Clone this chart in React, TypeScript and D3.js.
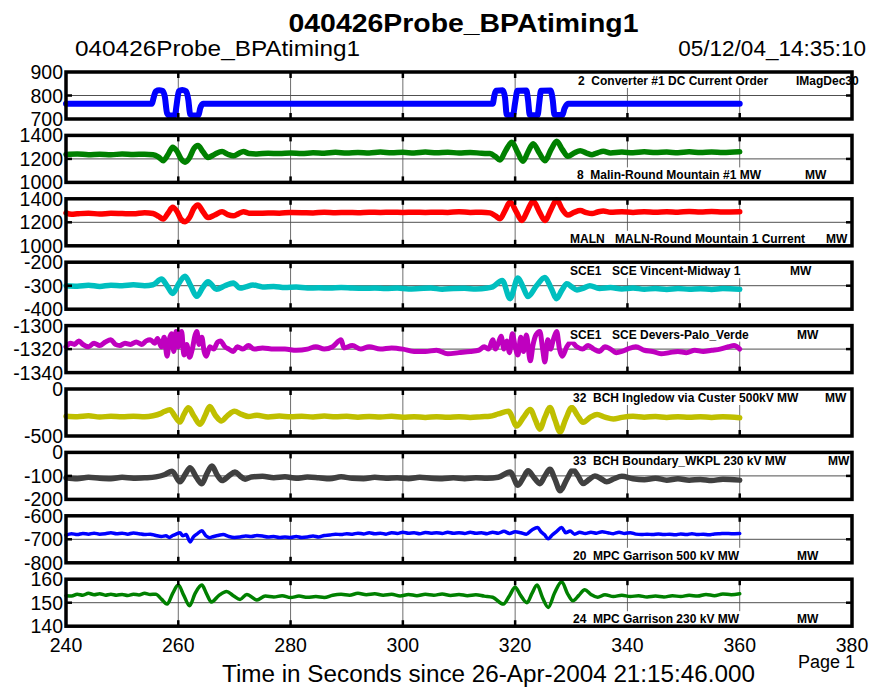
import React from "react";
import * as d3 from "d3";

// time axis (seconds)
const timeTicks = [240, 260, 280, 300, 320, 340, 360, 380];

const dcOrder: [number, number][] = [
  [240, 765], [255.3, 765], [255.6, 790], [256, 818], [256.6, 822], [257.2, 820], [257.6, 795], [258, 725],
  [258.4, 715], [259.4, 716], [259.7, 760], [260.1, 818], [260.7, 823], [261.4, 818], [261.8, 780], [262.1, 720],
  [262.5, 715], [263.6, 716], [263.9, 745], [264.4, 765], [316, 765], [316.3, 800], [316.6, 820], [317.8, 822],
  [318.2, 790], [318.5, 718], [319.6, 716], [320, 770], [320.4, 820], [322, 821], [322.3, 780], [322.6, 717],
  [324, 716], [324.3, 770], [324.6, 820], [326.3, 821], [326.7, 780], [327, 718], [328.4, 717], [328.8, 745],
  [329.4, 765], [360, 765],
];

const malinMw: [number, number][] = [
  [240, 1238], [242, 1242], [244, 1236], [246, 1240], [248, 1235], [250, 1242], [252, 1238], [254, 1240],
  [255.5, 1236], [256.5, 1215], [257.3, 1185], [258.2, 1240], [259, 1300], [259.7, 1270], [260.5, 1200],
  [261.2, 1172], [262, 1210], [262.8, 1290], [263.5, 1315], [264.4, 1260], [265.3, 1212], [266.5, 1240],
  [267.8, 1262], [268.8, 1240], [269.8, 1226], [270.7, 1245], [271.6, 1264], [272.6, 1245], [274, 1242],
  [276, 1248], [278, 1245], [280, 1250], [282, 1246], [284, 1252], [286, 1248], [288, 1256], [290, 1250],
  [292, 1255], [294, 1250], [296, 1258], [298, 1252], [300, 1256], [302, 1250], [304, 1258], [306, 1252],
  [308, 1257], [310, 1250], [312, 1255], [314, 1248], [315.5, 1245], [316.5, 1220], [317.3, 1190],
  [318.3, 1270], [319.4, 1342], [320.4, 1260], [321.4, 1180], [322.3, 1260], [323.2, 1330], [324.3, 1250],
  [325.3, 1185], [326.4, 1280], [327.4, 1350], [328.4, 1280], [329.4, 1222], [330.5, 1250], [331.6, 1270],
  [332.7, 1250], [333.7, 1236], [334.7, 1252], [335.7, 1265], [337, 1250], [339, 1258], [341, 1252],
  [343, 1260], [345, 1254], [347, 1258], [349, 1252], [351, 1260], [353, 1255], [355, 1258], [357, 1254],
  [360, 1260],
];

const malnCurrent: [number, number][] = [
  [240, 1280], [241, 1268], [242, 1272], [244, 1278], [246, 1270], [248, 1276], [250, 1274], [252, 1272],
  [254, 1282], [255.5, 1275], [256.5, 1250], [257.3, 1228], [258.2, 1280], [259, 1328], [259.8, 1290],
  [260.5, 1225], [261.2, 1205], [262, 1240], [262.8, 1320], [263.5, 1348], [264.4, 1290], [265.3, 1240],
  [266.5, 1262], [267.8, 1290], [268.8, 1265], [269.8, 1255], [270.7, 1272], [271.6, 1290], [272.6, 1278],
  [274, 1276], [276, 1280], [278, 1278], [280, 1283], [282, 1282], [284, 1280], [286, 1285], [288, 1282],
  [290, 1284], [292, 1282], [294, 1286], [296, 1284], [298, 1285], [300, 1284], [302, 1286], [304, 1284],
  [306, 1286], [308, 1284], [310, 1290], [312, 1284], [314, 1286], [315.5, 1280], [316.5, 1255],
  [317.3, 1230], [318.2, 1300], [319.1, 1372], [320.2, 1290], [321.2, 1215], [322.2, 1300], [323.2, 1382],
  [324.3, 1290], [325.3, 1215], [326.4, 1310], [327.4, 1392], [328.4, 1310], [329.4, 1262], [330.5, 1285],
  [331.6, 1300], [332.7, 1282], [333.7, 1274], [334.7, 1288], [335.7, 1296], [337, 1286], [339, 1290],
  [341, 1284], [343, 1290], [345, 1286], [347, 1290], [349, 1286], [351, 1292], [353, 1288], [355, 1292],
  [357, 1288], [360, 1290],
];

const vincentMw: [number, number][] = [
  [240, -300], [242, -302], [244, -298], [246, -303], [248, -298], [250, -300], [252, -296], [254, -300],
  [255.5, -296], [257, -272], [258, -300], [259, -333], [260.1, -290], [261.2, -260], [262.2, -300],
  [263.3, -345], [264.3, -310], [265.3, -283], [266.8, -315], [268.3, -300], [269.8, -288], [271, -310],
  [272, -305], [273.3, -297], [275, -305], [277, -303], [279, -308], [281, -306], [283, -310], [285, -309],
  [287, -310], [289, -308], [291, -310], [293, -311], [295, -310], [297, -312], [299, -310], [301, -314],
  [303, -312], [305, -310], [307, -315], [309, -312], [311, -311], [313, -314], [315, -310], [316, -305],
  [317.7, -278], [319.1, -355], [320.5, -267], [321.4, -305], [322.3, -346], [323.8, -300], [325.3, -265],
  [326.4, -310], [327.4, -355], [328.3, -320], [329.2, -292], [330.1, -305], [331, -318], [332.2, -310],
  [333.3, -300], [335, -312], [337, -308], [339, -314], [341, -310], [343, -315], [345, -312], [347, -316],
  [349, -312], [351, -315], [353, -313], [355, -316], [357, -312], [360, -315],
];

const deversMw: [number, number][] = [
  [240, -1318], [240.8, -1315], [241.5, -1316], [242.3, -1313], [243, -1316], [244, -1318], [245, -1315],
  [246, -1317], [247, -1314], [248, -1312], [248.8, -1316], [249.6, -1317], [250.5, -1315], [251.5, -1316],
  [252.5, -1314], [253.5, -1316], [254.3, -1313], [255, -1312], [255.8, -1315], [256.3, -1311], [257, -1318],
  [257.5, -1310], [258, -1326], [258.4, -1312], [258.8, -1307], [259.2, -1322], [259.6, -1305], [260, -1318],
  [260.6, -1305], [261, -1325], [261.5, -1316], [262, -1327], [262.5, -1320], [263, -1308], [263.3, -1305],
  [263.7, -1316], [264.2, -1310], [264.6, -1322], [265, -1326], [265.6, -1318], [266.3, -1320], [267, -1314],
  [267.5, -1313], [268.3, -1318], [269, -1320], [269.8, -1322], [270.5, -1318], [271.5, -1320], [272.5, -1317],
  [273.5, -1320], [275, -1319], [277, -1320], [279, -1320], [281, -1321], [283, -1320], [284.5, -1318],
  [286, -1320], [287.5, -1318], [289, -1312], [289.5, -1319], [291, -1317], [292.5, -1320], [294, -1318],
  [296, -1320], [298, -1319], [300, -1320], [302, -1322], [304, -1322], [306, -1321], [308, -1324],
  [310, -1323], [312, -1322], [313.5, -1321], [314.5, -1318], [315.3, -1320], [316, -1312], [316.5, -1320],
  [317, -1315], [317.5, -1309], [318, -1320], [318.5, -1313], [319, -1323], [319.5, -1307], [320, -1318],
  [320.5, -1325], [321, -1310], [321.5, -1322], [322, -1308], [322.7, -1330], [323.2, -1316], [323.7, -1308],
  [324.4, -1305], [324.9, -1320], [325.3, -1331], [325.8, -1312], [326.3, -1320], [326.8, -1312],
  [327.4, -1305], [327.9, -1320], [328.4, -1326], [329.2, -1318], [330, -1314], [331, -1318], [332, -1320],
  [333, -1317], [334, -1320], [335, -1322], [336, -1318], [337, -1320], [338, -1323], [339, -1322],
  [340, -1320], [341.5, -1318], [343, -1321], [344.5, -1322], [346, -1324], [347.5, -1323], [349, -1322],
  [350.5, -1323], [352, -1321], [353.5, -1322], [355, -1321], [356.5, -1320], [358, -1318], [359, -1317],
  [360, -1320],
];

const ingledowMw: [number, number][] = [
  [240, -290], [242, -295], [244, -285], [246, -298], [248, -290], [250, -294], [252, -290], [254, -295],
  [255.5, -285], [256.8, -262], [257.5, -240], [258.5, -220], [259.4, -290], [260.3, -352], [261, -270],
  [261.8, -200], [262.8, -290], [263.9, -375], [264.8, -280], [265.6, -185], [266.6, -280], [267.7, -340],
  [268.8, -280], [270, -238], [271.3, -270], [272.5, -292], [274, -280], [276, -298], [278, -288],
  [280, -295], [282, -290], [284, -298], [286, -288], [288, -295], [290, -290], [292, -300], [294, -292],
  [296, -298], [298, -290], [300, -300], [302, -295], [304, -302], [306, -296], [308, -300], [310, -294],
  [312, -302], [314, -294], [315.5, -290], [317, -265], [318.8, -236], [320.3, -393], [321.5, -300],
  [322.7, -218], [323.6, -330], [324.4, -427], [325.3, -300], [326.2, -198], [327.1, -330], [328, -458],
  [329, -320], [330.1, -198], [331.1, -280], [332.1, -354], [333.4, -300], [334.6, -271], [336, -300],
  [337.5, -320], [339, -302], [341, -290], [343, -300], [345, -292], [347, -302], [349, -296], [351, -300],
  [353, -294], [355, -302], [357, -296], [360, -305],
];

const boundaryMw: [number, number][] = [
  [240, -108], [242, -112], [244, -106], [246, -110], [248, -112], [250, -106], [252, -110], [254, -108],
  [256, -104], [257.5, -95], [258.9, -80], [260.3, -125], [261.2, -95], [262.1, -65], [263.2, -105],
  [264.2, -133], [265.1, -90], [266, -58], [266.9, -95], [267.8, -120], [269, -100], [270.1, -83], [271, -100],
  [271.9, -114], [273, -105], [275, -102], [277, -108], [279, -104], [281, -110], [283, -105], [285, -108],
  [287, -112], [289, -104], [291, -110], [293, -112], [295, -106], [297, -110], [299, -108], [301, -112],
  [303, -106], [305, -110], [307, -112], [309, -108], [311, -112], [313, -108], [315, -110], [317, -106],
  [319.1, -83], [320.5, -140], [321.4, -110], [322.3, -78], [323.3, -105], [324.4, -133], [325.3, -100],
  [326.2, -72], [327.1, -115], [328, -163], [329.2, -115], [330.3, -74], [331.2, -100], [332.1, -132],
  [333.2, -115], [334.2, -100], [335.3, -112], [336.3, -125], [337.6, -112], [339, -102], [341, -112],
  [343, -116], [345, -110], [347, -118], [349, -112], [351, -118], [353, -115], [355, -120], [357, -114],
  [360, -118],
];

const garrison500: [number, number][] = [
  [240, -682], [241, -676], [242, -680], [243, -675], [244, -678], [245, -674], [246, -678], [247, -676],
  [248, -672], [249, -676], [250, -674], [251, -678], [252, -673], [253, -676], [254, -680], [255, -678],
  [256, -684], [257, -688], [257.8, -685], [258.4, -692], [259, -684], [259.6, -678], [260.3, -672],
  [260.8, -685], [261.4, -680], [262.1, -711], [262.7, -690], [263.3, -678], [264.2, -664], [264.9, -685],
  [265.6, -693], [266.3, -688], [267, -684], [268, -680], [269, -688], [270, -692], [271, -690], [272, -686],
  [273, -688], [274, -684], [275, -686], [276, -690], [277, -688], [278, -692], [279, -690], [280, -692],
  [281, -688], [282, -692], [283, -690], [284, -686], [285, -690], [286, -684], [287, -682], [288, -678],
  [289, -680], [290, -676], [291, -678], [292, -674], [293, -677], [294, -672], [295, -676], [296, -674],
  [297, -678], [298, -672], [299, -675], [300, -670], [301, -674], [302, -672], [303, -676], [304, -671],
  [305, -674], [306, -672], [307, -675], [308, -670], [309, -674], [310, -672], [311, -675], [312, -670],
  [313, -674], [314, -672], [315, -676], [316, -670], [317, -674], [318, -666], [319, -675], [320, -668],
  [321, -672], [322, -678], [323, -660], [324, -650], [324.6, -668], [325.2, -680], [325.9, -698],
  [326.6, -682], [327.3, -668], [328.3, -650], [329, -672], [329.8, -665], [330.6, -678], [331.5, -670],
  [332.5, -675], [333.5, -670], [334.5, -674], [335.5, -668], [336.5, -672], [337.5, -676], [338.5, -670],
  [339.5, -675], [340.5, -672], [341.5, -678], [342.5, -680], [343.5, -678], [344.5, -680], [345.5, -677],
  [346.5, -680], [347.5, -678], [348.5, -681], [349.5, -677], [350.5, -680], [351.5, -676], [352.5, -680],
  [353.5, -678], [354.5, -681], [355.5, -677], [356.5, -676], [357.5, -675], [358.5, -676], [360, -675],
];

const garrison230: [number, number][] = [
  [240, 153], [241, 152.8], [242, 153.6], [243, 153.2], [244, 154], [245, 153.4], [246, 153.8], [247, 153.2],
  [248, 153.6], [249, 153.2], [250, 153.5], [251, 153.1], [252, 153.6], [253, 153.3], [254, 154],
  [255, 153.5], [256, 153.6], [257, 151.5], [258, 149.4], [259, 154], [260, 157.5], [261, 153], [262, 148.7],
  [263, 154], [264.2, 157.5], [265, 154], [265.9, 150.3], [267.2, 153], [268.6, 154.8], [269.8, 153],
  [271, 151.4], [272.2, 153.5], [274, 151.2], [275.5, 152.8], [277, 152.4], [278.5, 153], [280, 152.2],
  [281.5, 152.8], [283, 152.3], [284.5, 152.6], [286, 152.2], [287.5, 153.2], [289, 153.6], [290.5, 153.2],
  [292, 154], [293.5, 153.4], [295, 153.8], [296.5, 153.2], [298, 153.6], [299.5, 152.9], [301, 153.5],
  [302.5, 153], [304, 153.6], [305.5, 153.2], [307, 153.7], [308.5, 153.1], [310, 153.5], [311.5, 153],
  [313, 153.4], [314.5, 152.8], [316, 152.3], [317.9, 149.4], [319, 153], [320, 156.6], [321, 153],
  [322.1, 150], [323, 154], [323.9, 157.5], [324.9, 152], [325.9, 148], [327, 154], [328.3, 158.9],
  [329.3, 154], [330.3, 150.8], [331.3, 153], [332.4, 155.5], [333.5, 153.5], [334.7, 152.3], [336, 153.4],
  [337.5, 152.6], [339, 153.2], [340.5, 152.6], [342, 153], [343.5, 152.4], [345, 152.8], [346.5, 152.4],
  [348, 153], [349.5, 152.6], [351, 153.2], [352.5, 152.8], [354, 153.5], [355.5, 153], [357, 153.7],
  [358.5, 153.4], [360, 153.8],
];

// y tick values for each panel
const yTicks = [
  [700, 800, 900],
  [1000, 1200, 1400],
  [1000, 1200, 1400],
  [-400, -300, -200],
  [-1340, -1320, -1300],
  [-500, 0],
  [-200, -100, 0],
  [-800, -700, -600],
  [140, 150, 160],
];

// channel label pieces: [text, x]
const channelLabels: [string, number][][] = [
  [["2  Converter #1 DC Current Order", 578], ["IMagDec30", 796]],
  [["8  Malin-Round Mountain #1 MW", 577], ["MW", 805]],
  [["MALN", 570], ["MALN-Round Mountain 1 Current", 615], ["MW", 826]],
  [["SCE1", 570], ["SCE Vincent-Midway 1", 612], ["MW", 790]],
  [["SCE1", 570], ["SCE Devers-Palo_Verde", 612], ["MW", 797]],
  [["32  BCH Ingledow via Custer 500kV MW", 573], ["MW", 825]],
  [["33  BCH Boundary_WKPL 230 kV MW", 573], ["MW", 828]],
  [["20  MPC Garrison 500 kV MW", 573], ["MW", 797]],
  [["24  MPC Garrison 230 kV MW", 573], ["MW", 797]],
];
const labelAtTop = [true, false, false, true, true, true, true, false, false];

const seriesList = [dcOrder, malinMw, malnCurrent, vincentMw, deversMw, ingledowMw, boundaryMw, garrison500, garrison230];
const colors = ["#0000ff", "#008000", "#ff0000", "#00bfbf", "#bf00bf", "#bfbf00", "#404040", "#0000ff", "#008000"];
const widths = [6, 5.5, 5.5, 5.5, 5, 5.5, 5.5, 3.5, 3.5];

const W = 877;
const H = 688;
const left = 66;
const right = 852;
const top0 = 72;
const step = 63.4;
const ph = 47;
const FONT = "'Liberation Sans', Arial, Helvetica, sans-serif";

export default function App() {
  const x = d3.scaleLinear().domain([240, 380]).range([left, right]);
  const innerTicks = timeTicks.slice(1, -1);

  return (
    <svg width={W} height={H} style={{ position: "absolute", left: 0, top: 0, display: "block", background: "#fff" }} fontFamily={FONT}>
      <text x={463.5} y={32} textAnchor="middle" fontSize={26} fontWeight="bold" textLength={350} lengthAdjust="spacingAndGlyphs">
        040426Probe_BPAtiming1
      </text>
      <text x={75} y={56} fontSize={22.5} textLength={285} lengthAdjust="spacingAndGlyphs">
        040426Probe_BPAtiming1
      </text>
      <text x={866} y={56} fontSize={22.5} textAnchor="end">
        05/12/04_14:35:10
      </text>

      {seriesList.map((data, i) => {
        const top = top0 + i * step;
        const bottom = top + ph;
        const ticks = yTicks[i];
        const y = d3.scaleLinear().domain([ticks[0], ticks[ticks.length - 1]]).range([bottom, top]);
        const line = d3
          .line<[number, number]>()
          .x((d) => x(d[0]))
          .y((d) => y(d[1]))
          .curve(d3.curveMonotoneX);
        const mids = ticks.slice(1, -1);
        const atTop = labelAtTop[i];
        return (
          <g key={i}>
            {innerTicks.map((t) => (
              <line key={"g" + t} x1={x(t)} x2={x(t)} y1={top} y2={bottom} stroke="#6e6e6e" strokeWidth={1} />
            ))}
            {mids.map((v) => (
              <line key={"h" + v} x1={left} x2={right} y1={y(v)} y2={y(v)} stroke="#505050" strokeWidth={1} />
            ))}
            <path d={line(data) || ""} fill="none" stroke={colors[i]} strokeWidth={widths[i]} strokeLinejoin="round" strokeLinecap="round" />
            {innerTicks.map((t) => (
              <g key={"t" + t}>
                <line x1={x(t)} x2={x(t)} y1={top} y2={top + 6} stroke="#000" strokeWidth={2.5} />
                <line x1={x(t)} x2={x(t)} y1={bottom - 6} y2={bottom} stroke="#000" strokeWidth={2.5} />
              </g>
            ))}
            {mids.map((v) => (
              <g key={"m" + v}>
                <line x1={left} x2={left + 6} y1={y(v)} y2={y(v)} stroke="#000" strokeWidth={2.5} />
                <line x1={right - 6} x2={right} y1={y(v)} y2={y(v)} stroke="#000" strokeWidth={2.5} />
              </g>
            ))}
            <rect x={568} y={atTop ? top : top + 32} width={right - 568} height={atTop ? 16 : ph - 32} fill="#fff" />
            {channelLabels[i].map(([txt, lx], k) => (
              <text key={k} x={lx} y={atTop ? top + 13 : top + 44} fontSize={12} fontWeight="bold" style={{ whiteSpace: "pre" }}>
                {txt}
              </text>
            ))}
            <rect x={left} y={top} width={right - left} height={ph} fill="none" stroke="#000" strokeWidth={3.5} />
            {ticks.map((v) => (
              <text key={"l" + v} x={63} y={y(v) + 7} textAnchor="end" fontSize={19.5}>
                {v}
              </text>
            ))}
          </g>
        );
      })}

      {timeTicks.map((t) => (
        <text key={t} x={x(t)} y={652} textAnchor="middle" fontSize={19.5}>
          {t}
        </text>
      ))}
      <text x={488.5} y={682} textAnchor="middle" fontSize={23} textLength={533} lengthAdjust="spacingAndGlyphs">
        Time in Seconds since 26-Apr-2004 21:15:46.000
      </text>
      <text x={855} y={668} textAnchor="end" fontSize={18}>
        Page 1
      </text>
    </svg>
  );
}
